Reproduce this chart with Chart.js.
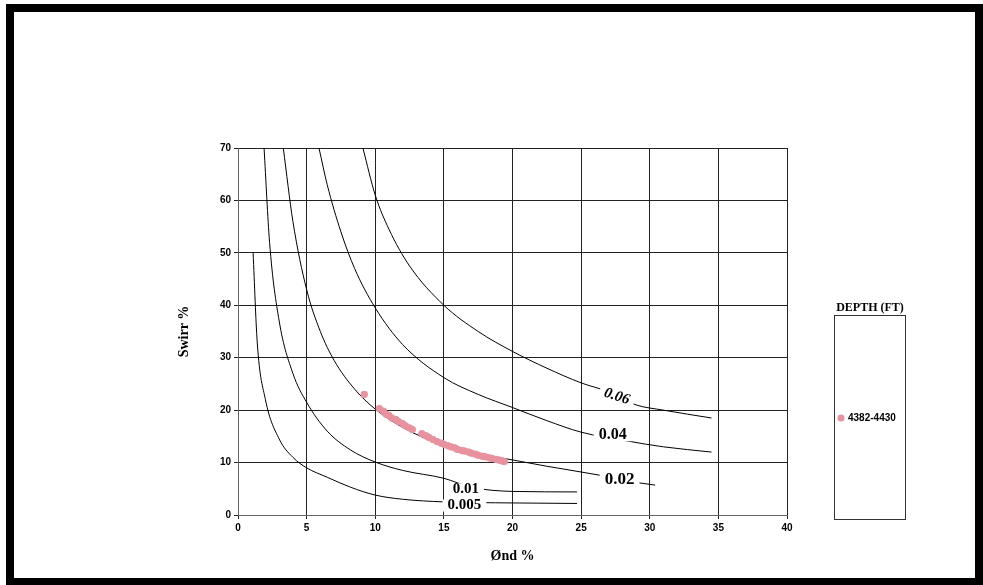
<!DOCTYPE html>
<html><head><meta charset="utf-8">
<script src="https://cdn.jsdelivr.net/npm/chart.js@4/dist/chart.umd.min.js"></script>
<style>html,body{margin:0;padding:0;background:#fff}#w{width:983px;height:585px}</style>
</head><body><div id="w"><canvas id="c"></canvas></div>
<script>
const xTicks=[0,5,10,15,20,25,30,35,40];
const yTicks=[0,10,20,30,40,50,60,70];
const c005=[[1.1,50],[1.4,33],[2,22],[3,14.5],[4,11],[5,9],[6.5,7.2],[8.2,5.3],[10,3.8],[12,3],[15,2.5],[20,2.3],[24.7,2.2]];
const c01=[[1.9,70],[2.3,52],[3,37],[4,27],[5,21.5],[6.5,16],[8.2,12.4],[10,10.1],[12,8.5],[15,7],[17,5.3],[20,4.5],[24.7,4.4]];
const c02=[[3.3,70],[4,56],[5,43],[6,35],[7,29.5],[8.5,24],[10,20.2],[12,16.7],[15,13.3],[17.5,11.7],[20,10.5],[22.5,9.3],[25,8.2],[27,7.3]];
const c02b=[[28.5,6.4],[30.4,5.7]];
const c04=[[5.9,70],[6.5,63],[7.5,54],[8.5,47],[10,39.5],[12,32.5],[15,26.2],[17.5,23],[20,20.5],[22.5,18],[25,15.8],[28.4,14.1],[31,13],[34.5,12]];
const c06=[[9.1,70],[10,61],[11,54.5],[12.5,47.5],[15,40],[17.5,35],[20,31.2],[22.5,28],[25,25.2],[27,23.5],[29,21],[31,20],[34.5,18.5]];
const phi=[9.2,10.3,10.6,10.8,11.0,11.2,11.5,11.7,12.0,12.2,12.5,12.7,13.4,13.7,13.9,14.2,14.5,14.8,15.0,15.3,15.5,15.8,16.0,16.3,16.5,16.8,17.0,17.3,17.5,17.8,18.0,18.3,18.5,18.8,19.0,19.2,19.4];
const sw=[23,20.3,19.8,19.2,19.0,18.5,18.2,17.8,17.4,17.0,16.6,16.3,15.5,15.1,14.8,14.4,14.0,13.7,13.5,13.2,13.0,12.8,12.5,12.3,12.2,12.0,11.8,11.6,11.4,11.2,11.1,10.9,10.8,10.6,10.5,10.35,10.2];
const curveLabels=[{t:'0.06',x:27.6,y:22.6,s:15,it:true,r:0.3},{t:'0.04',x:27.3,y:15.2,s:16,it:false,r:0},{t:'0.02',x:27.8,y:6.7,s:17,it:false,r:0},{t:'0.01',x:16.6,y:4.9,s:15,it:false,r:0},{t:'0.005',x:16.5,y:1.8,s:15,it:false,r:0}];
const pts=a=>a.map(p=>({x:p[0],y:p[1]}));
const line=(a)=>({type:'line',data:pts(a),borderColor:'#000',borderWidth:1,pointRadius:0,cubicInterpolationMode:'monotone',fill:false});
const deco={id:'deco',
 afterDatasetsDraw(ch){const g=ch.ctx,xs=ch.scales.x,ys=ch.scales.y;
  curveLabels.forEach(l=>{g.save();g.font=(l.it?'italic ':'')+'bold '+l.s+'px "Liberation Serif"';
   const px=xs.getPixelForValue(l.x),py=ys.getPixelForValue(l.y);g.translate(px,py);g.rotate(l.r);
   const w=g.measureText(l.t).width;g.fillStyle='#fff';g.fillRect(-w/2-5,-6,w+10,12);
   g.fillStyle='#000';g.textAlign='center';g.textBaseline='middle';g.fillText(l.t,0,0);g.restore();});
 },
 afterDraw(ch){const g=ch.ctx;g.save();
  g.fillStyle='#000';g.fillRect(6,4,977,8);g.fillRect(6,4,8,581);g.fillRect(6,578,977,7);g.fillRect(975,4,8,581);
  g.strokeStyle='#333';g.lineWidth=1;g.strokeRect(834.5,315.5,71,204);
  g.font='bold 12px "Liberation Serif"';g.fillStyle='#000';g.textAlign='center';g.textBaseline='alphabetic';
  g.fillText('DEPTH (FT)',870,311);
  g.fillStyle='#e8929f';g.beginPath();g.arc(841,418,3.5,0,Math.PI*2);g.fill();
  g.fillStyle='#000';g.font='bold 10px "Liberation Sans"';g.textAlign='left';g.textBaseline='middle';g.fillText('4382-4430',848,418);
  g.restore();}
};
new Chart(document.getElementById('c'),{
 data:{datasets:[line(c005),line(c01),line(c02),line(c02b),line(c04),line(c06),
  {type:'scatter',label:'4382-4430',data:phi.map((v,i)=>({x:v,y:sw[i]})),backgroundColor:'#e8929f',borderColor:'#e8929f',pointRadius:3.3,order:-1}]},
 options:{responsive:true,maintainAspectRatio:false,animation:false,
  layout:{padding:{left:172,right:196,top:148,bottom:16}},
  plugins:{legend:{display:false},tooltip:{enabled:false}},
  scales:{
   x:{type:'linear',min:0,max:40,afterBuildTicks:a=>{a.ticks=xTicks.map(v=>({value:v}))},
    afterFit:s=>{s.height=54},
    grid:{color:'#222',lineWidth:1,drawTicks:true,tickLength:4},border:{color:'#666'},
    ticks:{font:{family:'Liberation Sans',weight:'bold',size:10},color:'#000',maxRotation:0},
    title:{display:true,text:'Ønd %',font:{family:'Liberation Serif',weight:'bold',size:14},color:'#000',padding:{top:4}}},
   y:{type:'linear',min:0,max:70,afterBuildTicks:a=>{a.ticks=yTicks.map(v=>({value:v}))},
    afterFit:s=>{s.width=66},
    grid:{color:'#222',lineWidth:1,tickLength:4},border:{color:'#666'},
    ticks:{font:{family:'Liberation Sans',weight:'bold',size:10},color:'#000'},
    title:{display:true,text:'Swirr %',font:{family:'Liberation Serif',weight:'bold',size:14},color:'#000'}}}},
 plugins:[deco]});
</script></body></html>
